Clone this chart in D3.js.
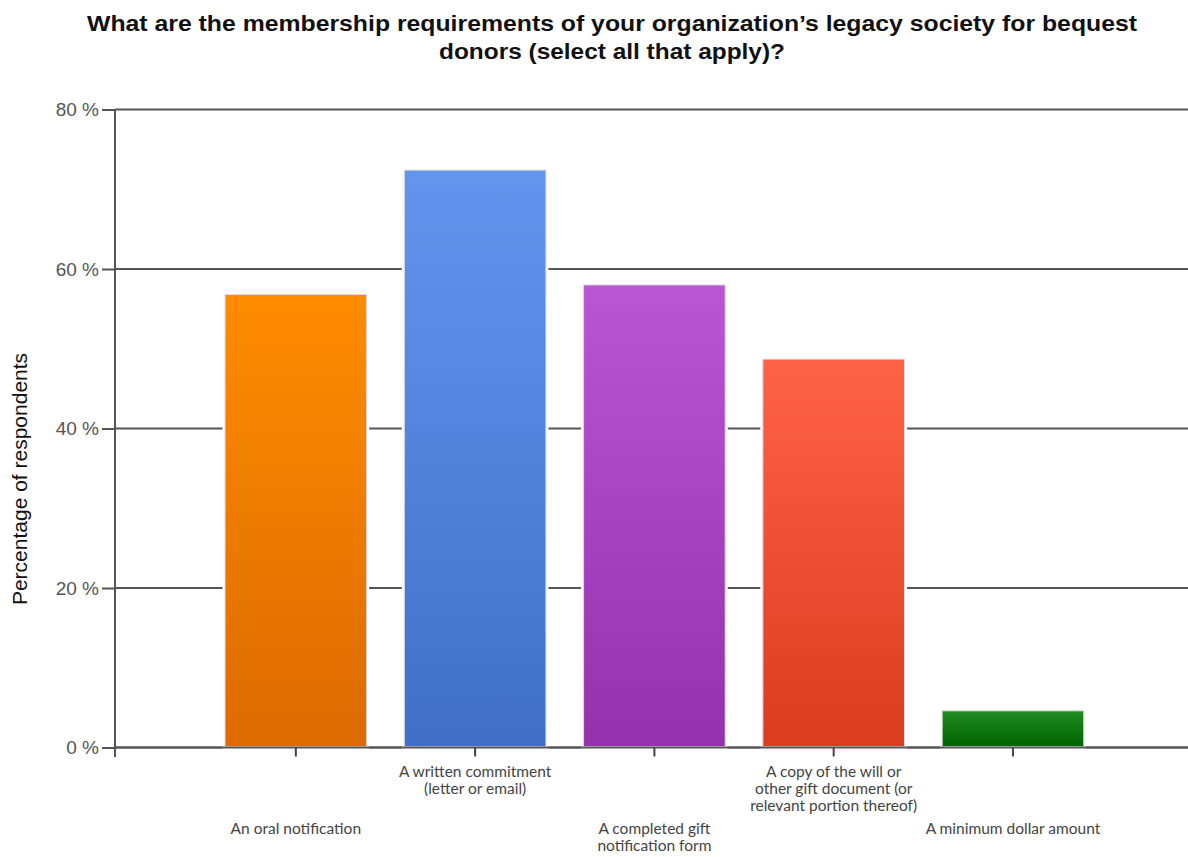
<!DOCTYPE html>
<html><head><meta charset="utf-8">
<script src="https://cdn.jsdelivr.net/npm/d3@7"></script>
<style>body{margin:0;background:#fff}svg{display:block}</style>
</head><body>
<svg id="c" width="1188" height="857"></svg>
<script>
const titleLines = ["What are the membership requirements of your organization\u2019s legacy society for bequest", "donors (select all that apply)?"];
const yTitle = "Percentage of respondents";
const categories = ["An oral notification", "A written commitment (letter or email)", "A completed gift notification form", "A copy of the will or other gift document (or relevant portion thereof)", "A minimum dollar amount"];
const labelLines = [
  ["An oral notification"],
  ["A written commitment", "(letter or email)"],
  ["A completed gift", "notification form"],
  ["A copy of the will or", "other gift document (or", "relevant portion thereof)"],
  ["A minimum dollar amount"]
];
const values = [56.8, 72.4, 58.0, 48.7, 4.6];
const yTicks = [0, 20, 40, 60, 80];
const topColors = ["#FF8C00", "#6495ED", "#BA55D3", "#FF6347", "#228B22"];
const bottomColors = ["#DC6A00", "#416FC8", "#9431AD", "#D93C1F", "#006400"];

const svg = d3.select("#c");
const x0 = 115, y0 = 747.5, yTop = 109.5;
const y = d3.scaleLinear().domain([0, 80]).range([y0, yTop]);
const x = d3.scaleBand().domain(categories).range([206.2, 1102.6]).paddingInner(0.21).paddingOuter(0.105);

// gradients
const defs = svg.append("defs");
categories.forEach((c, i) => {
  const g = defs.append("linearGradient").attr("id", "g" + i).attr("x1", 0).attr("y1", 0).attr("x2", 0).attr("y2", 1);
  g.append("stop").attr("offset", "0%").attr("stop-color", topColors[i]);
  g.append("stop").attr("offset", "100%").attr("stop-color", bottomColors[i]);
});

// title
svg.append("g").selectAll("text").data(titleLines).join("text")
  .attr("x", 612).attr("y", (d, i) => 31 + i * 28)
  .attr("text-anchor", "middle")
  .attr("font-family", "Liberation Sans, Arial, sans-serif")
  .attr("font-weight", "bold").attr("font-size", 21.5).attr("fill", "#111")
  .attr("textLength", (d, i) => i === 0 ? 1050 : 346)
  .attr("lengthAdjust", "spacingAndGlyphs")
  .text(d => d);

// gridlines
svg.append("g").selectAll("line").data(yTicks).join("line")
  .attr("x1", x0).attr("x2", 1188)
  .attr("y1", d => y(d)).attr("y2", d => y(d))
  .attr("stroke", "#555").attr("stroke-width", 2);

// y axis
const yAxis = svg.append("g").attr("transform", `translate(${x0},0)`)
  .call(d3.axisLeft(y).tickValues(yTicks).tickSize(13).tickPadding(3).tickFormat(d => d + " %"));
yAxis.select(".domain").remove();
yAxis.selectAll(".tick line").attr("stroke", "#555").attr("stroke-width", 2);
yAxis.selectAll(".tick text").attr("font-family", "Liberation Sans, Arial, sans-serif").attr("font-size", 19).attr("fill", "#555");

svg.append("line").attr("x1", x0).attr("x2", x0).attr("y1", yTop).attr("y2", y0 + 9.5)
  .attr("stroke", "#555").attr("stroke-width", 2);

// bars
const bars = svg.append("g");
bars.selectAll("rect.halo").data(values).join("rect").attr("class", "halo")
  .attr("x", (d, i) => x(categories[i])).attr("width", x.bandwidth())
  .attr("y", d => y(d)).attr("height", d => y0 - 1 - y(d))
  .attr("fill", "none").attr("stroke", "#fff").attr("stroke-width", 5);
bars.selectAll("rect.bar").data(values).join("rect").attr("class", "bar")
  .attr("x", (d, i) => x(categories[i])).attr("width", x.bandwidth())
  .attr("y", d => y(d)).attr("height", d => y0 - 1 - y(d))
  .attr("fill", (d, i) => `url(#g${i})`).attr("stroke", "#dcdcdc").attr("stroke-width", 1);

// x axis
svg.append("line").attr("x1", x0).attr("x2", 1188).attr("y1", y0).attr("y2", y0)
  .attr("stroke", "#555").attr("stroke-width", 2);
const xAxis = svg.append("g").attr("transform", `translate(0,${y0})`)
  .call(d3.axisBottom(x).tickSize(9).tickFormat(""));
xAxis.select(".domain").remove();
xAxis.selectAll(".tick line").attr("stroke", "#444").attr("stroke-width", 2);

// x labels
const lbl = svg.append("g");
categories.forEach((c, i) => {
  const cx = x(c) + x.bandwidth() / 2;
  const startY = i % 2 === 1 ? 777 : 834;
  const t = lbl.append("text").attr("text-anchor", "middle")
    .attr("font-family", "Lato, Open Sans, sans-serif").attr("font-size", 15.5).attr("fill", "#444");
  labelLines[i].forEach((ln, j) => {
    t.append("tspan").attr("x", cx).attr("y", startY + j * 17).text(ln);
  });
});

// y title
svg.append("text").attr("transform", "translate(27,479) rotate(-90)")
  .attr("text-anchor", "middle")
  .attr("font-family", "Liberation Sans, Arial, sans-serif").attr("font-size", 21).attr("fill", "#111")
  .text(yTitle);
</script>
</body></html>
